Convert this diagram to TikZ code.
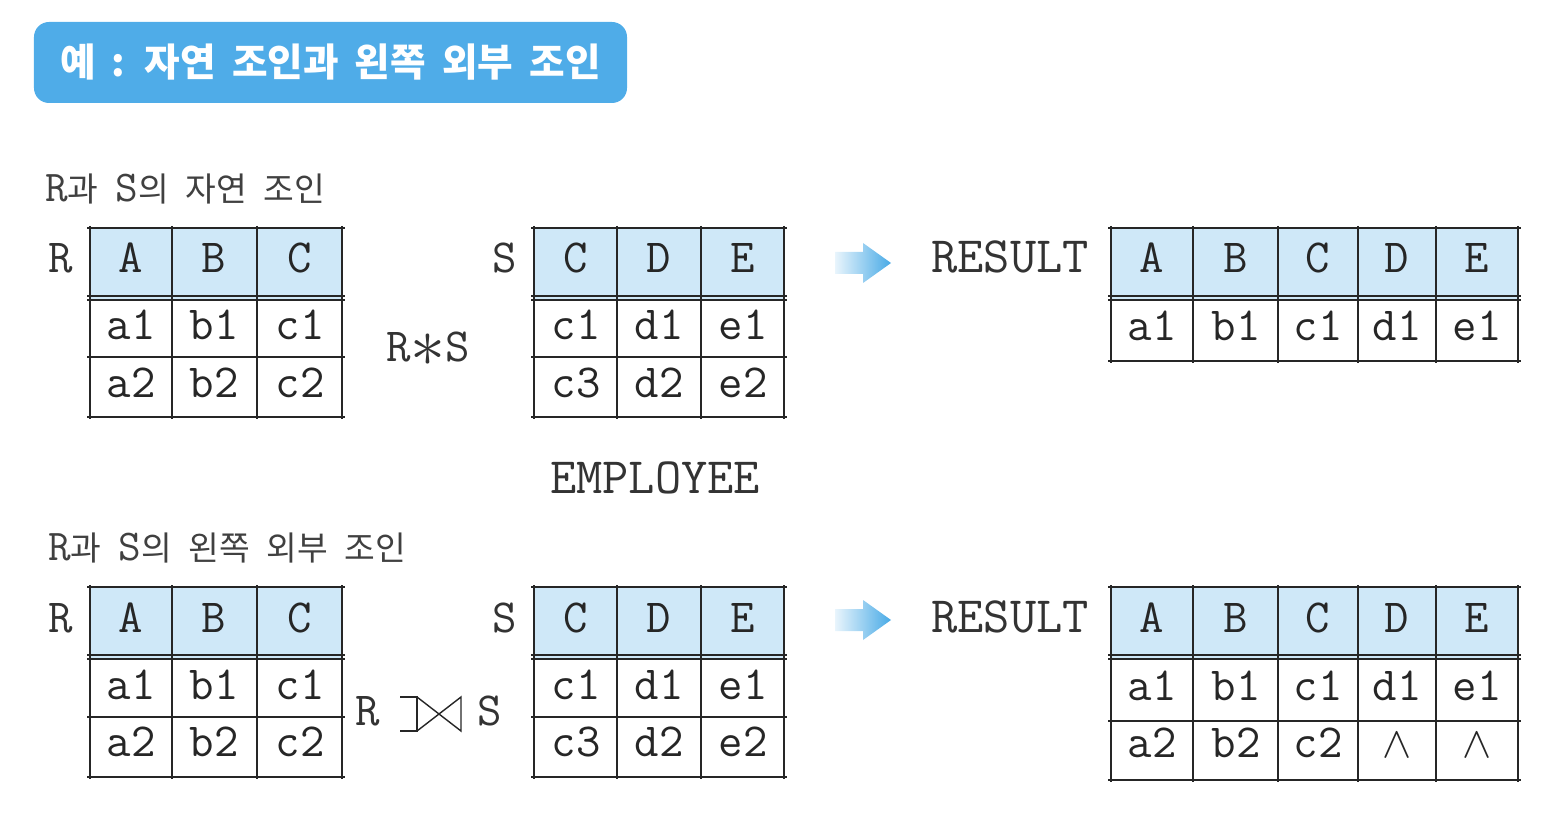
\documentclass[tikz,border=0pt]{standalone}
\usepackage{fontspec}
\setmainfont{Liberation Serif}
\newfontfamily\kr{Noto Sans CJK KR}
\usetikzlibrary{positioning}

\definecolor{titleblue}{RGB}{79,172,232}
\definecolor{headblue}{RGB}{207,232,248}
\definecolor{arrowblue}{RGB}{72,170,230}

% one relation: left, right, top, bottom, column lines, row lines
\newcommand{\reltab}[6]{%
  \fill[headblue] (#1,#3) rectangle (#2,#3+72);
  \foreach \xx in {#5} \draw[rule] (\xx,#3-2) -- (\xx,#4+2);
  \foreach \yy in {#6} \draw[rule] (#1-3,\yy) -- (#2+3,\yy);
}
\newcommand{\rs}[1]{{\fontsize{25}{28}\ttfamily #1}}
\newcommand{\bigast}{\raisebox{-0.12em}{\scalebox{1.6}{$\ast$}}}
\newcommand{\titlefont}{\fontsize{22}{26}\kr\bfseries\spaceskip=0.42em\relax}
\newcommand{\labelfont}{\fontsize{19}{22}\kr\spaceskip=0.5em\relax}

\begin{document}
\begin{tikzpicture}[x=0.2mm,y=-0.2mm,
  rule/.style={line width=1.05pt,black!85},
  cell/.style={anchor=base,inner sep=0pt,font=\fontsize{27}{30}\ttfamily,text=black!85},
  lbl/.style={anchor=base,inner sep=0pt,font=\fontsize{27}{30}\ttfamily,text=black!80},
  wide/.style={lbl,font=\fontsize{29}{32}\ttfamily},
  klbl/.style={anchor=base west,inner sep=0pt,font=\labelfont,text=black!75}]
  \useasboundingbox (0,0) rectangle (1564,814);

  % title
  \node[fill=titleblue,rounded corners=3mm,minimum width=118.6mm,minimum height=16.2mm,
        text=white,font=\titlefont] (title) at (330.5,62.5)
        {예 : 자연 조인과 왼쪽 외부 조인};

  % R * S
  \node[klbl] (nat) at (45,202) {\rs{R}과 \rs{S}의 자연 조인};
  \reltab{90}{342}{228}{417}{90,172,257,342}{228,296,300,357,417}
  \reltab{534}{784}{228}{417}{534,617,701,784}{228,296,300,357,417}
  \reltab{1111}{1518}{228}{361}{1111,1193,1278,1358,1436,1518}{228,296,300,361}
  \node[lbl] (jR) at (61,273) {R};
  \node[lbl] (jS) at (505,273) {S};
  \node[lbl] (jRS) at (428,361) {R\bigast S};
  \node[wide] (jT) at (1010,273) {RESULT};
  \foreach \x/\t in {131/A,214/B,300/C} \node[cell] (jR-\t) at (\x,273) {\t};
  \foreach \x/\t in {131/a1,214/b1,300/c1} \node[cell] (jR-\t) at (\x,340) {\t};
  \foreach \x/\t in {131/a2,214/b2,300/c2} \node[cell] (jR-\t) at (\x,397) {\t};
  \foreach \x/\t in {576/C,659/D,743/E} \node[cell] (jS-\t) at (\x,273) {\t};
  \foreach \x/\t in {576/c1,659/d1,743/e1} \node[cell] (jS-\t) at (\x,340) {\t};
  \foreach \x/\t in {576/c3,659/d2,743/e2} \node[cell] (jS-\t) at (\x,397) {\t};
  \foreach \x/\t in {1152/A,1236/B,1318/C,1397/D,1477/E} \node[cell] (jT-\t) at (\x,273) {\t};
  \foreach \x/\t in {1152/a1,1236/b1,1318/c1,1397/d1,1477/e1} \node[cell] (jT-\t) at (\x,341) {\t};
  \shade[left color=arrowblue!12,right color=arrowblue]
    (835,252) -- (863,252) -- (863,243) -- (891,263) -- (863,283) -- (863,274) -- (835,274) -- cycle;

  \node[wide] (emp) at (655,493) {EMPLOYEE};

  % R left outer join S
  \node[klbl] (outer) at (48,560) {\rs{R}과 \rs{S}의 왼쪽 외부 조인};
  \reltab{90}{342}{587}{777}{90,172,257,342}{587,655,659,717,777}
  \reltab{534}{784}{587}{777}{534,617,701,784}{587,655,659,717,777}
  \reltab{1111}{1518}{587}{780}{1111,1193,1278,1358,1436,1518}{587,655,659,721,780}
  \node[lbl] (oR) at (61,632) {R};
  \node[lbl] (oS) at (505,632) {S};
  \node[lbl] (oR2) at (368,725) {R};
  \node[lbl] (oS2) at (490,725) {S};
  \draw[line width=0.8pt,black!85] (400,697) -- (417,697) -- (417,731) -- (400,731);
  \draw[line width=0.8pt,black!85] (417,697) -- (461,731) -- (461,697) -- (417,731);
  \node[wide] (oT) at (1010,632) {RESULT};
  \foreach \x/\t in {131/A,214/B,300/C} \node[cell] (oR-\t) at (\x,632) {\t};
  \foreach \x/\t in {131/a1,214/b1,300/c1} \node[cell] (oR-\t) at (\x,699) {\t};
  \foreach \x/\t in {131/a2,214/b2,300/c2} \node[cell] (oR-\t) at (\x,756) {\t};
  \foreach \x/\t in {576/C,659/D,743/E} \node[cell] (oS-\t) at (\x,632) {\t};
  \foreach \x/\t in {576/c1,659/d1,743/e1} \node[cell] (oS-\t) at (\x,699) {\t};
  \foreach \x/\t in {576/c3,659/d2,743/e2} \node[cell] (oS-\t) at (\x,756) {\t};
  \foreach \x/\t in {1152/A,1236/B,1318/C,1397/D,1477/E} \node[cell] (oT-\t) at (\x,632) {\t};
  \foreach \x/\t in {1152/a1,1236/b1,1318/c1,1397/d1,1477/e1} \node[cell] (oT-\t) at (\x,700) {\t};
  \foreach \x/\t in {1152/a2,1236/b2,1318/c2} \node[cell] (oT-\t) at (\x,757) {\t};
  \node[cell] (oT-d2) at (1397,757) {$\wedge$};
  \node[cell] (oT-e2) at (1477,757) {$\wedge$};
  \shade[left color=arrowblue!12,right color=arrowblue]
    (835,609) -- (863,609) -- (863,600) -- (891,620) -- (863,640) -- (863,631) -- (835,631) -- cycle;
\end{tikzpicture}
\end{document}
